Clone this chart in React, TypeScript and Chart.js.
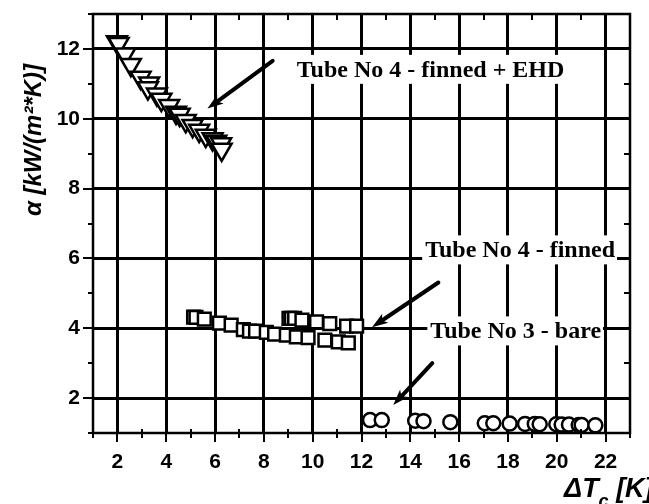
import React, { useEffect, useRef } from 'react';
import { Chart, registerables } from 'chart.js';

Chart.register(...registerables);

// ---- data ----
const triX = [1.98, 2.05, 2.32, 2.55, 2.95, 3.3, 3.25, 3.62, 3.8, 4.12, 4.4, 4.55, 4.8, 5.08, 5.35, 5.62, 5.9, 6.05, 6.25, 6.27];
const triY = [12.2, 12.15, 11.85, 11.55, 11.18, 11.02, 10.88, 10.7, 10.55, 10.37, 10.18, 10.12, 9.94, 9.8, 9.66, 9.52, 9.42, 9.35, 9.28, 9.12];

const sqX = [5.12, 5.22, 5.56, 6.18, 6.66, 7.16, 7.41, 7.66, 8.1, 8.44, 8.92, 9.33, 9.81, 10.5, 11.05, 11.46, 9.03, 9.13, 9.26, 9.56, 10.16, 10.7, 11.39, 11.8];
const sqY = [4.32, 4.31, 4.26, 4.15, 4.09, 3.96, 3.92, 3.92, 3.88, 3.83, 3.8, 3.75, 3.73, 3.66, 3.61, 3.58, 4.28, 4.28, 4.28, 4.23, 4.18, 4.13, 4.06, 4.06];

const cirX = [12.35, 12.83, 14.2, 14.54, 15.64, 17.05, 17.4, 18.07, 18.7, 19.1, 19.3, 19.98, 20.2, 20.5, 20.9, 21.02, 21.58];
const cirY = [1.37, 1.37, 1.35, 1.34, 1.31, 1.28, 1.28, 1.27, 1.26, 1.26, 1.25, 1.25, 1.24, 1.24, 1.23, 1.23, 1.22];

const xTickLabels = [2, 4, 6, 8, 10, 12, 14, 16, 18, 20, 22];
const yTickLabels = [2, 4, 6, 8, 10, 12];

const annotationTexts = ['Tube No 4 - finned + EHD', 'Tube No 4 - finned', 'Tube No 3 - bare'];
const annotationX = [9.35, 14.61, 14.82];
const annotationY = [11.2, 6.03, 3.71];

// arrows: tail -> head, in data units
const arrowTailX = [8.36, 15.15, 14.9];
const arrowTailY = [11.66, 5.31, 3.0];
const arrowHeadX = [5.69, 12.43, 13.3];
const arrowHeadY = [10.29, 4.03, 1.8];

const X_MIN = 1, X_MAX = 23, Y_MIN = 1, Y_MAX = 13;

const SANS = '"Liberation Sans", Arial, sans-serif';
const SERIF = '"Liberation Serif", "Times New Roman", serif';

const pts = (xs: number[], ys: number[]) => xs.map((x, i) => ({ x, y: ys[i] }));

const decorPlugin = {
  id: 'decor',
  beforeDraw(chart: any) {
    const { ctx, width, height } = chart;
    ctx.save();
    ctx.fillStyle = '#fff';
    ctx.fillRect(0, 0, width, height);
    ctx.restore();
  },
  afterDatasetsDraw(chart: any) {
    const { ctx, scales } = chart;
    const xs = scales.x, ys = scales.y;
    ctx.save();
    ctx.font = `bold 24px ${SERIF}`;
    ctx.textBaseline = 'alphabetic';
    ctx.textAlign = 'left';
    annotationTexts.forEach((t, i) => {
      const px = xs.getPixelForValue(annotationX[i]);
      const py = ys.getPixelForValue(annotationY[i]);
      const w = ctx.measureText(t).width;
      ctx.fillStyle = '#fff';
      ctx.fillRect(px - 3, py - 22, w + 5, 29);
      ctx.fillStyle = '#000';
      ctx.fillText(t, px, py);
    });
    ctx.strokeStyle = '#000';
    ctx.fillStyle = '#000';
    ctx.lineCap = 'round';
    arrowTailX.forEach((_, i) => {
      const x0 = xs.getPixelForValue(arrowTailX[i]);
      const y0 = ys.getPixelForValue(arrowTailY[i]);
      const x1 = xs.getPixelForValue(arrowHeadX[i]);
      const y1 = ys.getPixelForValue(arrowHeadY[i]);
      const ang = Math.atan2(y1 - y0, x1 - x0);
      const hl = 16, hw = 5.5;
      const bx = x1 - Math.cos(ang) * hl, by = y1 - Math.sin(ang) * hl;
      ctx.lineWidth = 4;
      ctx.beginPath();
      ctx.moveTo(x0, y0);
      ctx.lineTo(bx + Math.cos(ang) * 4, by + Math.sin(ang) * 4);
      ctx.stroke();
      ctx.beginPath();
      ctx.moveTo(x1, y1);
      ctx.lineTo(bx - Math.sin(ang) * hw, by + Math.cos(ang) * hw);
      ctx.lineTo(bx + Math.cos(ang) * 4, by + Math.sin(ang) * 4);
      ctx.lineTo(bx + Math.sin(ang) * hw, by - Math.cos(ang) * hw);
      ctx.closePath();
      ctx.fill();
    });
    ctx.restore();
  },
  afterDraw(chart: any) {
    const { ctx, chartArea, scales } = chart;
    const xs = scales.x, ys = scales.y;
    const { left, right, top, bottom } = chartArea;
    ctx.save();
    ctx.strokeStyle = '#000';
    ctx.lineWidth = 2.5;
    ctx.strokeRect(left, top, right - left, bottom - top);
    ctx.lineWidth = 2;
    ctx.beginPath();
    for (let v = X_MIN; v <= X_MAX; v++) {
      const px = Math.round(xs.getPixelForValue(v));
      const major = v % 2 === 0;
      if (major) { ctx.moveTo(px, bottom - 3); ctx.lineTo(px, bottom + 9); }
      else { ctx.moveTo(px, bottom - 4); ctx.lineTo(px, bottom + 5); }
      ctx.moveTo(px, top); ctx.lineTo(px, top + (major ? 10 : 6));
    }
    for (let v = Y_MIN; v <= Y_MAX; v++) {
      const py = Math.round(ys.getPixelForValue(v));
      const major = v % 2 === 0;
      ctx.moveTo(left, py); ctx.lineTo(left - (major ? 10 : 5), py);
      ctx.moveTo(right, py); ctx.lineTo(right - (major ? 10 : 6), py);
    }
    ctx.stroke();

    ctx.fillStyle = '#000';
    ctx.save();
    ctx.translate(34, 140);
    ctx.rotate(-Math.PI / 2);
    ctx.font = `italic bold 24px ${SANS}`;
    ctx.textAlign = 'center';
    ctx.textBaseline = 'middle';
    ctx.fillText('α [kW/(m²*K)]', 0, 0);
    ctx.restore();

    ctx.textAlign = 'left';
    ctx.textBaseline = 'alphabetic';
    ctx.font = `italic bold 27px ${SANS}`;
    let cx = 564;
    const by = 497;
    ctx.fillText('ΔT', cx, by);
    cx += ctx.measureText('ΔT').width;
    ctx.font = `italic bold 18px ${SANS}`;
    ctx.fillText('c', cx, by + 10);
    cx += ctx.measureText('c').width;
    ctx.font = `italic bold 27px ${SANS}`;
    ctx.fillText(' [K]', cx, by);
    ctx.restore();
  },
};

export default function App() {
  const ref = useRef<HTMLCanvasElement | null>(null);
  useEffect(() => {
    if (!ref.current) return;
    const chart = new Chart(ref.current, {
      type: 'scatter',
      data: {
        datasets: [
          {
            label: 'Tube No 4 - finned + EHD',
            data: pts(triX, triY),
            pointStyle: 'triangle',
            rotation: 180,
            radius: 11.5,
            borderWidth: 2.5,
            borderColor: '#000',
            backgroundColor: '#fff',
          },
          {
            label: 'Tube No 4 - finned',
            data: pts(sqX, sqY),
            pointStyle: 'rect',
            radius: 9,
            borderWidth: 2.5,
            borderColor: '#000',
            backgroundColor: '#fff',
          },
          {
            label: 'Tube No 3 - bare',
            data: pts(cirX, cirY),
            pointStyle: 'circle',
            radius: 7,
            borderWidth: 2.5,
            borderColor: '#000',
            backgroundColor: '#fff',
          },
        ],
      },
      options: {
        responsive: false,
        animation: false,
        events: [],
        layout: { padding: { top: 13, right: 19, left: 0, bottom: 0 } },
        plugins: {
          legend: { display: false },
          tooltip: { enabled: false },
          title: { display: false },
        },
        scales: {
          x: {
            type: 'linear',
            min: X_MIN,
            max: X_MAX,
            afterFit: (s: any) => { s.height = 71; s.paddingLeft = 0; s.paddingRight = 0; },
            ticks: {
              stepSize: 1,
              autoSkip: false,
              maxRotation: 0,
              padding: 17,
              color: '#000',
              font: { family: SANS, size: 21, weight: 'bold' },
              callback: (v: any) => (xTickLabels.includes(Number(v)) ? String(v) : ''),
            },
            grid: {
              color: (c: any) => (c.tick && xTickLabels.includes(c.tick.value) ? '#000' : 'rgba(0,0,0,0)'),
              lineWidth: 3,
              drawTicks: false,
            },
            border: { display: false },
          },
          y: {
            type: 'linear',
            min: Y_MIN,
            max: Y_MAX,
            afterFit: (s: any) => { s.width = 93; s.paddingTop = 0; s.paddingBottom = 0; },
            ticks: {
              stepSize: 1,
              autoSkip: false,
              padding: 13,
              color: '#000',
              font: { family: SANS, size: 21, weight: 'bold' },
              callback: (v: any) => (yTickLabels.includes(Number(v)) ? String(v) : ''),
            },
            grid: {
              color: (c: any) => (c.tick && yTickLabels.includes(c.tick.value) ? '#000' : 'rgba(0,0,0,0)'),
              lineWidth: 3,
              drawTicks: false,
            },
            border: { display: false },
          },
        },
      } as any,
      plugins: [decorPlugin],
    });
    return () => chart.destroy();
  }, []);
  return (
    <div style={{ position: 'fixed', left: 0, top: 0, width: 649, height: 504, background: '#fff' }}>
      <canvas ref={ref} width={649} height={504} style={{ display: 'block', width: 649, height: 504 }} />
    </div>
  );
}
